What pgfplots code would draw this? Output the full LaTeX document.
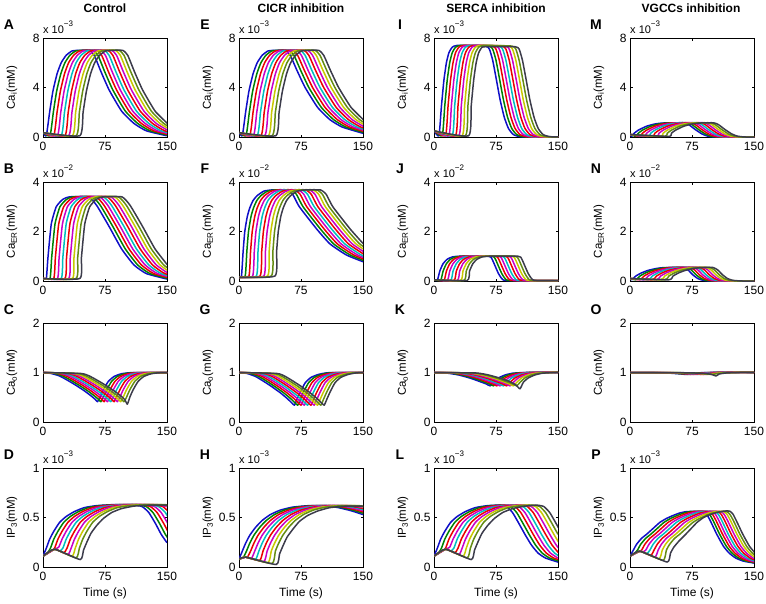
\documentclass[border=0pt]{standalone}
\usepackage{fontspec}
\setmainfont{Liberation Sans}
\usepackage{pgfplots}
\pgfplotsset{compat=1.18}
\definecolor{k1}{RGB}{15,15,200}
\definecolor{k2}{RGB}{0,130,0}
\definecolor{k3}{RGB}{235,0,0}
\definecolor{k4}{RGB}{200,0,200}
\definecolor{k5}{RGB}{0,190,190}
\definecolor{k8}{RGB}{200,200,0}
\definecolor{k9}{RGB}{100,140,20}
\definecolor{k10}{RGB}{60,60,75}
\pgfplotscreateplotcyclelist{mc}{k1\\k2\\k3\\k4\\k5\\k3\\k4\\k8\\k9\\k10\\}
\pgfplotsset{
 pnl/.style={scale only axis, width=124pt, height=99pt, anchor=north west,
  xmin=0, xmax=150, xtick={0,75,150}, ymin=0, clip mode=individual,
  tick align=inside, major tick length=2.5pt,
  axis line style={line width=0.9pt},
  every tick/.style={black, line width=0.6pt},
  tick label style={font=\fontsize{12}{12}\selectfont},
  xticklabel style={yshift=-2pt},
  /pgf/number format/assume math mode=true,
  every axis y label/.style={at={(axis description cs:-0.25,0.5)}, rotate=90, anchor=center, font=\fontsize{11.5}{11.5}\selectfont},
  every axis x label/.style={at={(axis description cs:0.5,-0.27)}, anchor=center, font=\fontsize{12}{12}\selectfont},
  cycle list name=mc, no marks,
  every axis plot/.append style={line width=1.5pt, smooth, tension=0.3, line join=round}},
 r1/.style={pnl, ymax=8, ytick={0,4,8}, ylabel={Ca\textsubscript{i}(mM)}},
 r2/.style={pnl, ymax=4, ytick={0,2,4}, ylabel={Ca\textsubscript{ER}(mM)}},
 r3/.style={pnl, ymax=2, ytick={0,1,2}, ylabel={Ca\textsubscript{o}(mM)}},
 r4/.style={pnl, ymax=1, ytick={0,0.5,1}, ylabel={IP\textsubscript{3}(mM)}, xlabel={Time (s)}},
}
\newcommand{\lett}[1]{\node[xshift=-34pt,yshift=13pt,font=\bfseries\fontsize{14}{14}\selectfont] at (rel axis cs:0,1) {#1};}
\newcommand{\expo}[1]{\node[anchor=base west,inner sep=0pt,yshift=5pt,font=\fontsize{11}{11}\selectfont] at (rel axis cs:0,1) {x 10\raisebox{1.1ex}{\fontsize{8}{8}\selectfont −#1}};}
\begin{document}
\begin{tikzpicture}
\path[use as bounding box] (0,0) rectangle (766pt,-603pt);
\node[font=\bfseries\fontsize{12}{12}\selectfont] at (105pt,-8pt) {Control};
\node[font=\bfseries\fontsize{12}{12}\selectfont] at (301pt,-8pt) {CICR inhibition};
\node[font=\bfseries\fontsize{12}{12}\selectfont] at (496pt,-8pt) {SERCA inhibition};
\node[font=\bfseries\fontsize{12}{12}\selectfont] at (691pt,-8pt) {VGCCs inhibition};
% ---------- A
\begin{axis}[r1, at={(43pt,-38pt)}]
\addplot coordinates {(0,.35)(4,.1)(8,2)(12,3.7)(17,5.1)(22,6)(28,6.6)(35,6.95)(42,7)(56,7)(62,6.6)(70,5.3)(80,3.8)(95,2.1)(110,1.1)(125,.5)(150,.1)};
\addplot coordinates {(0,.35)(8.5,.1)(12.5,2)(16.5,3.7)(21.5,5.1)(26.5,6)(32.5,6.6)(39.5,6.95)(46.5,7)(60.5,7)(66.5,6.6)(74.5,5.3)(84.5,3.8)(99.5,2.1)(114.5,1.1)(129.5,.5)(154.5,.1)};
\addplot coordinates {(0,.35)(13,.1)(17,2)(21,3.7)(26,5.1)(31,6)(37,6.6)(44,6.95)(51,7)(65,7)(71,6.6)(79,5.3)(89,3.8)(104,2.1)(119,1.1)(134,.5)(159,.1)};
\addplot coordinates {(0,.35)(17.5,.1)(21.5,2)(25.5,3.7)(30.5,5.1)(35.5,6)(41.5,6.6)(48.5,6.95)(55.5,7)(69.5,7)(75.5,6.6)(83.5,5.3)(93.5,3.8)(108.5,2.1)(123.5,1.1)(138.5,.5)(163.5,.1)};
\addplot coordinates {(0,.35)(22,.1)(26,2)(30,3.7)(35,5.1)(40,6)(46,6.6)(53,6.95)(60,7)(74,7)(80,6.6)(88,5.3)(98,3.8)(113,2.1)(128,1.1)(143,.5)(168,.1)};
\addplot coordinates {(0,.35)(26.5,.1)(30.5,2)(34.5,3.7)(39.5,5.1)(44.5,6)(50.5,6.6)(57.5,6.95)(64.5,7)(78.5,7)(84.5,6.6)(92.5,5.3)(102.5,3.8)(117.5,2.1)(132.5,1.1)(147.5,.5)(172.5,.1)};
\addplot coordinates {(0,.35)(31,.1)(35,2)(39,3.7)(44,5.1)(49,6)(55,6.6)(62,6.95)(69,7)(83,7)(89,6.6)(97,5.3)(107,3.8)(122,2.1)(137,1.1)(152,.5)};
\addplot coordinates {(0,.35)(35.5,.1)(39.5,2)(43.5,3.7)(48.5,5.1)(53.5,6)(59.5,6.6)(66.5,6.95)(73.5,7)(87.5,7)(93.5,6.6)(101.5,5.3)(111.5,3.8)(126.5,2.1)(141.5,1.1)(156.5,.5)};
\addplot coordinates {(0,.35)(40,.1)(44,2)(48,3.7)(53,5.1)(58,6)(64,6.6)(71,6.95)(78,7)(92,7)(98,6.6)(106,5.3)(116,3.8)(131,2.1)(146,1.1)(161,.5)};
\addplot coordinates {(0,.35)(44.5,.1)(48.5,2)(52.5,3.7)(57.5,5.1)(62.5,6)(68.5,6.6)(75.5,6.95)(82.5,7)(96.5,7)(102.5,6.6)(110.5,5.3)(120.5,3.8)(135.5,2.1)(150.5,1.1)};
\lett{A}\expo{3}
\end{axis}
% ---------- E
\begin{axis}[r1, at={(239pt,-38pt)}]
\addplot coordinates {(0,.35)(4,.1)(8,2)(12,3.7)(17,5.1)(22,6)(28,6.6)(35,6.95)(42,7)(56,7)(62,6.6)(70,5.4)(80,4)(95,2.4)(110,1.4)(125,.8)(150,.3)};
\addplot coordinates {(0,.35)(8.5,.1)(12.5,2)(16.5,3.7)(21.5,5.1)(26.5,6)(32.5,6.6)(39.5,6.95)(46.5,7)(60.5,7)(66.5,6.6)(74.5,5.4)(84.5,4)(99.5,2.4)(114.5,1.4)(129.5,.8)(154.5,.3)};
\addplot coordinates {(0,.35)(13,.1)(17,2)(21,3.7)(26,5.1)(31,6)(37,6.6)(44,6.95)(51,7)(65,7)(71,6.6)(79,5.4)(89,4)(104,2.4)(119,1.4)(134,.8)(159,.3)};
\addplot coordinates {(0,.35)(17.5,.1)(21.5,2)(25.5,3.7)(30.5,5.1)(35.5,6)(41.5,6.6)(48.5,6.95)(55.5,7)(69.5,7)(75.5,6.6)(83.5,5.4)(93.5,4)(108.5,2.4)(123.5,1.4)(138.5,.8)(163.5,.3)};
\addplot coordinates {(0,.35)(22,.1)(26,2)(30,3.7)(35,5.1)(40,6)(46,6.6)(53,6.95)(60,7)(74,7)(80,6.6)(88,5.4)(98,4)(113,2.4)(128,1.4)(143,.8)(168,.3)};
\addplot coordinates {(0,.35)(26.5,.1)(30.5,2)(34.5,3.7)(39.5,5.1)(44.5,6)(50.5,6.6)(57.5,6.95)(64.5,7)(78.5,7)(84.5,6.6)(92.5,5.4)(102.5,4)(117.5,2.4)(132.5,1.4)(147.5,.8)(172.5,.3)};
\addplot coordinates {(0,.35)(31,.1)(35,2)(39,3.7)(44,5.1)(49,6)(55,6.6)(62,6.95)(69,7)(83,7)(89,6.6)(97,5.4)(107,4)(122,2.4)(137,1.4)(152,.8)};
\addplot coordinates {(0,.35)(35.5,.1)(39.5,2)(43.5,3.7)(48.5,5.1)(53.5,6)(59.5,6.6)(66.5,6.95)(73.5,7)(87.5,7)(93.5,6.6)(101.5,5.4)(111.5,4)(126.5,2.4)(141.5,1.4)(156.5,.8)};
\addplot coordinates {(0,.35)(40,.1)(44,2)(48,3.7)(53,5.1)(58,6)(64,6.6)(71,6.95)(78,7)(92,7)(98,6.6)(106,5.4)(116,4)(131,2.4)(146,1.4)(161,.8)};
\addplot coordinates {(0,.35)(44.5,.1)(48.5,2)(52.5,3.7)(57.5,5.1)(62.5,6)(68.5,6.6)(75.5,6.95)(82.5,7)(96.5,7)(102.5,6.6)(110.5,5.4)(120.5,4)(135.5,2.4)(150.5,1.4)};
\lett{E}\expo{3}
\end{axis}
% ---------- I
\begin{axis}[r1, at={(434pt,-38pt)}]
\addplot coordinates {(0,.5)(6,.1)(9,2.5)(12,4.6)(15,6)(18,6.8)(22,7.25)(28,7.4)(62,7.35)(67,7.1)(71,6.2)(75,4.8)(80,3)(85,1.6)(90,.7)(96,.2)(106,.02)(150,0)};
\addplot coordinates {(0,.5)(10,.1)(13,2.5)(16,4.6)(19,6)(22,6.8)(26,7.25)(32,7.4)(66,7.35)(71,7.1)(75,6.2)(79,4.8)(84,3)(89,1.6)(94,.7)(100,.2)(110,.02)(154,0)};
\addplot coordinates {(0,.5)(14,.1)(17,2.5)(20,4.6)(23,6)(26,6.8)(30,7.25)(36,7.4)(70,7.35)(75,7.1)(79,6.2)(83,4.8)(88,3)(93,1.6)(98,.7)(104,.2)(114,.02)(158,0)};
\addplot coordinates {(0,.5)(18,.1)(21,2.5)(24,4.6)(27,6)(30,6.8)(34,7.25)(40,7.4)(74,7.35)(79,7.1)(83,6.2)(87,4.8)(92,3)(97,1.6)(102,.7)(108,.2)(118,.02)(162,0)};
\addplot coordinates {(0,.5)(22,.1)(25,2.5)(28,4.6)(31,6)(34,6.8)(38,7.25)(44,7.4)(78,7.35)(83,7.1)(87,6.2)(91,4.8)(96,3)(101,1.6)(106,.7)(112,.2)(122,.02)(166,0)};
\addplot coordinates {(0,.5)(26,.1)(29,2.5)(32,4.6)(35,6)(38,6.8)(42,7.25)(48,7.4)(82,7.35)(87,7.1)(91,6.2)(95,4.8)(100,3)(105,1.6)(110,.7)(116,.2)(126,.02)(170,0)};
\addplot coordinates {(0,.5)(30,.1)(33,2.5)(36,4.6)(39,6)(42,6.8)(46,7.25)(52,7.4)(86,7.35)(91,7.1)(95,6.2)(99,4.8)(104,3)(109,1.6)(114,.7)(120,.2)(130,.02)(174,0)};
\addplot coordinates {(0,.5)(34,.1)(37,2.5)(40,4.6)(43,6)(46,6.8)(50,7.25)(56,7.4)(90,7.35)(95,7.1)(99,6.2)(103,4.8)(108,3)(113,1.6)(118,.7)(124,.2)(134,.02)(178,0)};
\addplot coordinates {(0,.5)(38,.1)(41,2.5)(44,4.6)(47,6)(50,6.8)(54,7.25)(60,7.4)(94,7.35)(99,7.1)(103,6.2)(107,4.8)(112,3)(117,1.6)(122,.7)(128,.2)(138,.02)(182,0)};
\addplot coordinates {(0,.5)(42,.1)(45,2.5)(48,4.6)(51,6)(54,6.8)(58,7.25)(64,7.3)(98,7.3)(103,7.1)(107,6.2)(111,4.8)(116,3)(121,1.6)(126,.7)(132,.2)(142,.02)(186,0)};
\lett{I}\expo{3}
\end{axis}
% ---------- M
\begin{axis}[r1, at={(630pt,-38pt)}]
\addplot coordinates {(0,.2)(2,.05)(5,.3)(10,.55)(20,.87)(30,1.05)(40,1.13)(65,1.15)(71,1)(79,.6)(87,.25)(94,.07)(104,0)(150,0)};
\addplot coordinates {(0,.2)(7,.05)(10,.3)(15,.55)(25,.87)(35,1.05)(45,1.13)(69,1.15)(75,1)(83,.6)(91,.25)(98,.07)(108,0)(154,0)};
\addplot coordinates {(0,.2)(12,.05)(15,.3)(20,.55)(30,.87)(40,1.05)(50,1.13)(73,1.15)(79,1)(87,.6)(95,.25)(102,.07)(112,0)(158,0)};
\addplot coordinates {(0,.2)(17,.05)(20,.3)(25,.55)(35,.87)(45,1.05)(55,1.13)(77,1.15)(83,1)(91,.6)(99,.25)(106,.07)(116,0)(162,0)};
\addplot coordinates {(0,.2)(22,.05)(25,.3)(30,.55)(40,.87)(50,1.05)(60,1.13)(81,1.15)(87,1)(95,.6)(103,.25)(110,.07)(120,0)(166,0)};
\addplot coordinates {(0,.2)(27,.05)(30,.3)(35,.55)(45,.87)(55,1.05)(65,1.13)(85,1.15)(91,1)(99,.6)(107,.25)(114,.07)(124,0)(170,0)};
\addplot coordinates {(0,.2)(32,.05)(35,.3)(40,.55)(50,.87)(60,1.05)(70,1.13)(89,1.15)(95,1)(103,.6)(111,.25)(118,.07)(128,0)(174,0)};
\addplot coordinates {(0,.2)(37,.05)(40,.3)(45,.55)(55,.87)(65,1.05)(75,1.13)(93,1.15)(99,1)(107,.6)(115,.25)(122,.07)(132,0)(178,0)};
\addplot coordinates {(0,.2)(42,.05)(45,.3)(50,.55)(60,.87)(70,1.05)(80,1.13)(97,1.15)(103,1)(111,.6)(119,.25)(126,.07)(136,0)(182,0)};
\addplot coordinates {(0,.2)(47,.05)(50,.3)(55,.55)(65,.87)(75,1.05)(85,1.13)(101,1.15)(107,1)(115,.6)(123,.25)(130,.07)(140,0)(186,0)};
\lett{M}\expo{3}
\end{axis}
% ---------- B
\begin{axis}[r2, at={(43pt,-182pt)}]
\addplot coordinates {(0,.1)(4,.1)(6,.95)(10,2.3)(16,3)(24,3.3)(32,3.4)(55,3.4)(65,3.05)(80,2.2)(95,1.3)(110,.65)(125,.3)(150,.08)};
\addplot coordinates {(0,.1)(8.5,.1)(10.5,.95)(14.5,2.3)(20.5,3)(28.5,3.3)(36.5,3.4)(59.5,3.4)(69.5,3.05)(84.5,2.2)(99.5,1.3)(114.5,.65)(129.5,.3)(154.5,.08)};
\addplot coordinates {(0,.1)(13,.1)(15,.95)(19,2.3)(25,3)(33,3.3)(41,3.4)(64,3.4)(74,3.05)(89,2.2)(104,1.3)(119,.65)(134,.3)(159,.08)};
\addplot coordinates {(0,.1)(17.5,.1)(19.5,.95)(23.5,2.3)(29.5,3)(37.5,3.3)(45.5,3.4)(68.5,3.4)(78.5,3.05)(93.5,2.2)(108.5,1.3)(123.5,.65)(138.5,.3)(163.5,.08)};
\addplot coordinates {(0,.1)(22,.1)(24,.95)(28,2.3)(34,3)(42,3.3)(50,3.4)(73,3.4)(83,3.05)(98,2.2)(113,1.3)(128,.65)(143,.3)(168,.08)};
\addplot coordinates {(0,.1)(26.5,.1)(28.5,.95)(32.5,2.3)(38.5,3)(46.5,3.3)(54.5,3.4)(77.5,3.4)(87.5,3.05)(102.5,2.2)(117.5,1.3)(132.5,.65)(147.5,.3)(172.5,.08)};
\addplot coordinates {(0,.1)(31,.1)(33,.95)(37,2.3)(43,3)(51,3.3)(59,3.4)(82,3.4)(92,3.05)(107,2.2)(122,1.3)(137,.65)(152,.3)};
\addplot coordinates {(0,.1)(35.5,.1)(37.5,.95)(41.5,2.3)(47.5,3)(55.5,3.3)(63.5,3.4)(86.5,3.4)(96.5,3.05)(111.5,2.2)(126.5,1.3)(141.5,.65)(156.5,.3)};
\addplot coordinates {(0,.1)(40,.1)(42,.95)(46,2.3)(52,3)(60,3.3)(68,3.4)(91,3.4)(101,3.05)(116,2.2)(131,1.3)(146,.65)(161,.3)};
\addplot coordinates {(0,.1)(44.5,.1)(46.5,.95)(50.5,2.3)(56.5,3)(64.5,3.3)(72.5,3.4)(95.5,3.4)(105.5,3.05)(120.5,2.2)(135.5,1.3)(150.5,.65)};
\lett{B}\expo{2}
\end{axis}
% ---------- F
\begin{axis}[r2, at={(239pt,-182pt)}]
\addplot coordinates {(0,.15)(3,.2)(5,1.2)(7,2)(10,2.6)(13,2.95)(17,3.25)(22,3.45)(30,3.63)(40,3.68)(58,3.68)(65,3.5)(73,3)(94,2.1)(110,1.5)(130,1.05)(150,.78)};
\addplot coordinates {(0,.15)(7.5,.2)(9.5,1.2)(11.5,2)(14.5,2.6)(17.5,2.95)(21.5,3.25)(26.5,3.45)(34.5,3.63)(44.5,3.68)(62.5,3.68)(69.5,3.5)(77.5,3)(98.5,2.1)(114.5,1.5)(134.5,1.05)(154.5,.78)};
\addplot coordinates {(0,.15)(12,.2)(14,1.2)(16,2)(19,2.6)(22,2.95)(26,3.25)(31,3.45)(39,3.63)(49,3.68)(67,3.68)(74,3.5)(82,3)(103,2.1)(119,1.5)(139,1.05)(159,.78)};
\addplot coordinates {(0,.15)(16.5,.2)(18.5,1.2)(20.5,2)(23.5,2.6)(26.5,2.95)(30.5,3.25)(35.5,3.45)(43.5,3.63)(53.5,3.68)(71.5,3.68)(78.5,3.5)(86.5,3)(107.5,2.1)(123.5,1.5)(143.5,1.05)(163.5,.78)};
\addplot coordinates {(0,.15)(21,.2)(23,1.2)(25,2)(28,2.6)(31,2.95)(35,3.25)(40,3.45)(48,3.63)(58,3.68)(76,3.68)(83,3.5)(91,3)(112,2.1)(128,1.5)(148,1.05)(168,.78)};
\addplot coordinates {(0,.15)(25.5,.2)(27.5,1.2)(29.5,2)(32.5,2.6)(35.5,2.95)(39.5,3.25)(44.5,3.45)(52.5,3.63)(62.5,3.68)(80.5,3.68)(87.5,3.5)(95.5,3)(116.5,2.1)(132.5,1.5)(152.5,1.05)};
\addplot coordinates {(0,.15)(30,.2)(32,1.2)(34,2)(37,2.6)(40,2.95)(44,3.25)(49,3.45)(57,3.63)(67,3.68)(85,3.68)(92,3.5)(100,3)(121,2.1)(137,1.5)(157,1.05)};
\addplot coordinates {(0,.15)(34.5,.2)(36.5,1.2)(38.5,2)(41.5,2.6)(44.5,2.95)(48.5,3.25)(53.5,3.45)(61.5,3.63)(71.5,3.68)(89.5,3.68)(96.5,3.5)(104.5,3)(125.5,2.1)(141.5,1.5)(161.5,1.05)};
\addplot coordinates {(0,.15)(39,.2)(41,1.2)(43,2)(46,2.6)(49,2.95)(53,3.25)(58,3.45)(66,3.63)(76,3.68)(94,3.68)(101,3.5)(109,3)(130,2.1)(146,1.5)(166,1.05)};
\addplot coordinates {(0,.15)(43.5,.2)(45.5,1.2)(47.5,2)(50.5,2.6)(53.5,2.95)(57.5,3.25)(62.5,3.45)(70.5,3.63)(80.5,3.68)(98.5,3.68)(105.5,3.5)(113.5,3)(134.5,2.1)(150.5,1.5)};
\lett{F}\expo{2}
\end{axis}
% ---------- J
\begin{axis}[r2, at={(434pt,-182pt)}]
\addplot coordinates {(0,.05)(4,.02)(7,.4)(11,.7)(16,.88)(22,.97)(30,1)(66,1)(70,.9)(74,.6)(78,.3)(82,.1)(88,.02)(150,.01)};
\addplot coordinates {(0,.05)(8,.02)(11,.4)(15,.7)(20,.88)(26,.97)(34,1)(70,1)(74,.9)(78,.6)(82,.3)(86,.1)(92,.02)(154,.01)};
\addplot coordinates {(0,.05)(12,.02)(15,.4)(19,.7)(24,.88)(30,.97)(38,1)(74,1)(78,.9)(82,.6)(86,.3)(90,.1)(96,.02)(158,.01)};
\addplot coordinates {(0,.05)(16,.02)(19,.4)(23,.7)(28,.88)(34,.97)(42,1)(78,1)(82,.9)(86,.6)(90,.3)(94,.1)(100,.02)(162,.01)};
\addplot coordinates {(0,.05)(20,.02)(23,.4)(27,.7)(32,.88)(38,.97)(46,1)(82,1)(86,.9)(90,.6)(94,.3)(98,.1)(104,.02)(166,.01)};
\addplot coordinates {(0,.05)(24,.02)(27,.4)(31,.7)(36,.88)(42,.97)(50,1)(86,1)(90,.9)(94,.6)(98,.3)(102,.1)(108,.02)(170,.01)};
\addplot coordinates {(0,.05)(28,.02)(31,.4)(35,.7)(40,.88)(46,.97)(54,1)(90,1)(94,.9)(98,.6)(102,.3)(106,.1)(112,.02)(174,.01)};
\addplot coordinates {(0,.05)(32,.02)(35,.4)(39,.7)(44,.88)(50,.97)(58,1)(94,1)(98,.9)(102,.6)(106,.3)(110,.1)(116,.02)(178,.01)};
\addplot coordinates {(0,.05)(36,.02)(39,.4)(43,.7)(48,.88)(54,.97)(62,1)(98,1)(102,.9)(106,.6)(110,.3)(114,.1)(120,.02)(182,.01)};
\addplot coordinates {(0,.05)(40,.02)(43,.4)(47,.7)(52,.88)(58,.97)(66,1)(102,1)(106,.9)(110,.6)(114,.3)(118,.1)(124,.02)(186,.01)};
\lett{J}\expo{2}
\end{axis}
% ---------- N
\begin{axis}[r2, at={(630pt,-182pt)}]
\addplot coordinates {(0,.1)(2,.05)(7,.2)(14,.33)(22,.43)(31,.5)(40,.54)(64,.55)(70,.45)(76,.25)(82,.1)(88,.03)(100,0)(150,0)};
\addplot coordinates {(0,.1)(7,.05)(12,.2)(19,.33)(27,.43)(36,.5)(45,.54)(68,.55)(74,.45)(80,.25)(86,.1)(92,.03)(104,0)(154,0)};
\addplot coordinates {(0,.1)(12,.05)(17,.2)(24,.33)(32,.43)(41,.5)(50,.54)(72,.55)(78,.45)(84,.25)(90,.1)(96,.03)(108,0)(158,0)};
\addplot coordinates {(0,.1)(17,.05)(22,.2)(29,.33)(37,.43)(46,.5)(55,.54)(76,.55)(82,.45)(88,.25)(94,.1)(100,.03)(112,0)(162,0)};
\addplot coordinates {(0,.1)(22,.05)(27,.2)(34,.33)(42,.43)(51,.5)(60,.54)(80,.55)(86,.45)(92,.25)(98,.1)(104,.03)(116,0)(166,0)};
\addplot coordinates {(0,.1)(27,.05)(32,.2)(39,.33)(47,.43)(56,.5)(65,.54)(84,.55)(90,.45)(96,.25)(102,.1)(108,.03)(120,0)(170,0)};
\addplot coordinates {(0,.1)(32,.05)(37,.2)(44,.33)(52,.43)(61,.5)(70,.54)(88,.55)(94,.45)(100,.25)(106,.1)(112,.03)(124,0)(174,0)};
\addplot coordinates {(0,.1)(37,.05)(42,.2)(49,.33)(57,.43)(66,.5)(75,.54)(92,.55)(98,.45)(104,.25)(110,.1)(116,.03)(128,0)(178,0)};
\addplot coordinates {(0,.1)(42,.05)(47,.2)(54,.33)(62,.43)(71,.5)(80,.54)(96,.55)(102,.45)(108,.25)(114,.1)(120,.03)(132,0)(182,0)};
\addplot coordinates {(0,.1)(47,.05)(52,.2)(59,.33)(67,.43)(76,.5)(85,.54)(100,.55)(106,.45)(112,.25)(118,.1)(124,.03)(136,0)(186,0)};
\lett{N}\expo{2}
\end{axis}
% ---------- C
\begin{axis}[r3, at={(43pt,-323pt)}]
\addplot coordinates {(0,1)(10,.98)(20,.93)(30,.84)(40,.74)(50,.63)(58,.53)(63,.46)(66,.41)(69,.5)(73,.65)(79,.82)(86,.92)(95,.975)(108,.998)(150,1)};
\addplot coordinates {(0,1)(14,.98)(24,.93)(34,.84)(44,.74)(54,.63)(62,.53)(67,.46)(70,.41)(73,.5)(77,.65)(83,.82)(90,.92)(99,.975)(112,.998)(154,1)};
\addplot coordinates {(0,1)(18,.98)(28,.93)(38,.84)(48,.74)(58,.63)(66,.53)(71,.46)(74,.41)(77,.5)(81,.65)(87,.82)(94,.92)(103,.975)(116,.998)(158,1)};
\addplot coordinates {(0,1)(22,.98)(32,.93)(42,.84)(52,.74)(62,.63)(70,.53)(75,.46)(78,.41)(81,.5)(85,.65)(91,.82)(98,.92)(107,.975)(120,.998)(162,1)};
\addplot coordinates {(0,1)(26,.98)(36,.93)(46,.84)(56,.74)(66,.63)(74,.53)(79,.46)(82,.41)(85,.5)(89,.65)(95,.82)(102,.92)(111,.975)(124,.998)(166,1)};
\addplot coordinates {(0,1)(30,.98)(40,.93)(50,.84)(60,.74)(70,.63)(78,.53)(83,.46)(86,.41)(89,.5)(93,.65)(99,.82)(106,.92)(115,.975)(128,.998)(170,1)};
\addplot coordinates {(0,1)(34,.98)(44,.93)(54,.84)(64,.74)(74,.63)(82,.53)(87,.46)(90,.41)(93,.5)(97,.65)(103,.82)(110,.92)(119,.975)(132,.998)(174,1)};
\addplot coordinates {(0,1)(38,.98)(48,.93)(58,.84)(68,.74)(78,.63)(86,.53)(91,.46)(94,.41)(97,.5)(101,.65)(107,.82)(114,.92)(123,.975)(136,.998)(178,1)};
\addplot coordinates {(0,1)(42,.98)(52,.93)(62,.84)(72,.74)(82,.63)(90,.53)(95,.46)(98,.41)(101,.5)(105,.65)(111,.82)(118,.92)(127,.975)(140,.998)(182,1)};
\addplot coordinates {(0,1)(46,.98)(56,.93)(66,.84)(76,.74)(86,.63)(94,.53)(99,.45)(102,.36)(105,.5)(109,.65)(115,.82)(122,.92)(131,.975)(144,.998)(186,1)};
\lett{C}
\end{axis}
% ---------- G
\begin{axis}[r3, at={(239pt,-323pt)}]
\addplot coordinates {(0,1)(10,.98)(20,.92)(30,.82)(40,.71)(50,.59)(58,.48)(63,.4)(67,.34)(70,.45)(74,.6)(80,.79)(87,.9)(96,.96)(108,.995)(150,1)};
\addplot coordinates {(0,1)(14,.98)(24,.92)(34,.82)(44,.71)(54,.59)(62,.48)(67,.4)(71,.34)(74,.45)(78,.6)(84,.79)(91,.9)(100,.96)(112,.995)(154,1)};
\addplot coordinates {(0,1)(18,.98)(28,.92)(38,.82)(48,.71)(58,.59)(66,.48)(71,.4)(75,.34)(78,.45)(82,.6)(88,.79)(95,.9)(104,.96)(116,.995)(158,1)};
\addplot coordinates {(0,1)(22,.98)(32,.92)(42,.82)(52,.71)(62,.59)(70,.48)(75,.4)(79,.34)(82,.45)(86,.6)(92,.79)(99,.9)(108,.96)(120,.995)(162,1)};
\addplot coordinates {(0,1)(26,.98)(36,.92)(46,.82)(56,.71)(66,.59)(74,.48)(79,.4)(83,.34)(86,.45)(90,.6)(96,.79)(103,.9)(112,.96)(124,.995)(166,1)};
\addplot coordinates {(0,1)(30,.98)(40,.92)(50,.82)(60,.71)(70,.59)(78,.48)(83,.4)(87,.34)(90,.45)(94,.6)(100,.79)(107,.9)(116,.96)(128,.995)(170,1)};
\addplot coordinates {(0,1)(34,.98)(44,.92)(54,.82)(64,.71)(74,.59)(82,.48)(87,.4)(91,.34)(94,.45)(98,.6)(104,.79)(111,.9)(120,.96)(132,.995)(174,1)};
\addplot coordinates {(0,1)(38,.98)(48,.92)(58,.82)(68,.71)(78,.59)(86,.48)(91,.4)(95,.34)(98,.45)(102,.6)(108,.79)(115,.9)(124,.96)(136,.995)(178,1)};
\addplot coordinates {(0,1)(42,.98)(52,.92)(62,.82)(72,.71)(82,.59)(90,.48)(95,.4)(99,.34)(102,.45)(106,.6)(112,.79)(119,.9)(128,.96)(140,.995)(182,1)};
\addplot coordinates {(0,1)(46,.98)(56,.92)(66,.82)(76,.71)(86,.59)(94,.48)(99,.4)(103,.34)(106,.45)(110,.6)(116,.79)(123,.9)(132,.96)(144,.995)(186,1)};
\lett{G}
\end{axis}
% ---------- K
\begin{axis}[r3, at={(434pt,-323pt)}]
\addplot coordinates {(0,1)(15,.99)(30,.95)(45,.88)(55,.82)(63,.77)(68,.73)(72,.8)(78,.89)(86,.95)(95,.985)(110,1)(150,1)};
\addplot coordinates {(0,1)(19,.99)(34,.95)(49,.88)(59,.82)(67,.77)(72,.73)(76,.8)(82,.89)(90,.95)(99,.985)(114,1)(154,1)};
\addplot coordinates {(0,1)(23,.99)(38,.95)(53,.88)(63,.82)(71,.77)(76,.73)(80,.8)(86,.89)(94,.95)(103,.985)(118,1)(158,1)};
\addplot coordinates {(0,1)(27,.99)(42,.95)(57,.88)(67,.82)(75,.77)(80,.73)(84,.8)(90,.89)(98,.95)(107,.985)(122,1)(162,1)};
\addplot coordinates {(0,1)(31,.99)(46,.95)(61,.88)(71,.82)(79,.77)(84,.73)(88,.8)(94,.89)(102,.95)(111,.985)(126,1)(166,1)};
\addplot coordinates {(0,1)(35,.99)(50,.95)(65,.88)(75,.82)(83,.77)(88,.73)(92,.8)(98,.89)(106,.95)(115,.985)(130,1)(170,1)};
\addplot coordinates {(0,1)(39,.99)(54,.95)(69,.88)(79,.82)(87,.77)(92,.73)(96,.8)(102,.89)(110,.95)(119,.985)(134,1)(174,1)};
\addplot coordinates {(0,1)(43,.99)(58,.95)(73,.88)(83,.82)(91,.77)(96,.73)(100,.8)(106,.89)(114,.95)(123,.985)(138,1)(178,1)};
\addplot coordinates {(0,1)(47,.99)(62,.95)(77,.88)(87,.82)(95,.77)(100,.73)(104,.8)(110,.89)(118,.95)(127,.985)(142,1)(182,1)};
\addplot coordinates {(0,1)(51,.99)(66,.95)(81,.88)(91,.82)(99,.75)(104,.67)(108,.8)(114,.89)(122,.95)(131,.985)(146,1)(186,1)};
\lett{K}
\end{axis}
% ---------- O
\begin{axis}[r3, at={(630pt,-323pt)}]
\addplot coordinates {(0,1)(30,.995)(50,.985)(62,.97)(68,.96)(72,.975)(80,.99)(95,1)(150,1)};
\addplot coordinates {(0,1)(34,.995)(54,.985)(66,.97)(72,.96)(76,.975)(84,.99)(99,1)(154,1)};
\addplot coordinates {(0,1)(38,.995)(58,.985)(70,.97)(76,.96)(80,.975)(88,.99)(103,1)(158,1)};
\addplot coordinates {(0,1)(42,.995)(62,.985)(74,.97)(80,.96)(84,.975)(92,.99)(107,1)(162,1)};
\addplot coordinates {(0,1)(46,.995)(66,.985)(78,.97)(84,.96)(88,.975)(96,.99)(111,1)(166,1)};
\addplot coordinates {(0,1)(50,.995)(70,.985)(82,.97)(88,.96)(92,.975)(100,.99)(115,1)(170,1)};
\addplot coordinates {(0,1)(54,.995)(74,.985)(86,.97)(92,.96)(96,.975)(104,.99)(119,1)(174,1)};
\addplot coordinates {(0,1)(58,.995)(78,.985)(90,.97)(96,.96)(100,.975)(108,.99)(123,1)(178,1)};
\addplot coordinates {(0,1)(62,.995)(82,.985)(94,.97)(100,.96)(104,.975)(112,.99)(127,1)(182,1)};
\addplot coordinates {(0,1)(66,.995)(86,.985)(98,.965)(104,.93)(108,.97)(116,.99)(131,1)(186,1)};
\lett{O}
\end{axis}
% ---------- D
\begin{axis}[r4, at={(43pt,-468pt)}]
\addplot coordinates {(0,.11)(4,.19)(8,.28)(13,.36)(20,.45)(28,.51)(38,.56)(50,.6)(65,.62)(85,.63)(108,.63)(120,.61)(128,.55)(136,.44)(143,.33)(150,.245)};
\addplot coordinates {(0,.11)(5,.135)(9,.19)(13,.28)(18,.36)(25,.45)(33,.51)(43,.56)(55,.6)(70,.62)(90,.63)(113,.63)(125,.61)(133,.55)(141,.44)(148,.33)(155,.245)};
\addplot coordinates {(0,.11)(10,.16)(14,.19)(18,.28)(23,.36)(30,.45)(38,.51)(48,.56)(60,.6)(75,.62)(95,.63)(118,.63)(130,.61)(138,.55)(146,.44)(153,.33)};
\addplot coordinates {(0,.11)(14,.18)(19,.2)(23,.28)(28,.36)(35,.45)(43,.51)(53,.56)(65,.6)(80,.62)(100,.63)(123,.63)(135,.61)(143,.55)(151,.44)};
\addplot coordinates {(0,.11)(14,.18)(20,.16)(24,.19)(28,.28)(33,.36)(40,.45)(48,.51)(58,.56)(70,.6)(85,.62)(105,.63)(128,.63)(140,.61)(148,.55)(156,.44)};
\addplot coordinates {(0,.11)(14,.18)(25,.143)(29,.19)(33,.28)(38,.36)(45,.45)(53,.51)(63,.56)(75,.6)(90,.62)(110,.63)(133,.63)(145,.61)(153,.55)};
\addplot coordinates {(0,.11)(14,.18)(30,.126)(34,.19)(38,.28)(43,.36)(50,.45)(58,.51)(68,.56)(80,.6)(95,.62)(115,.63)(138,.63)(150,.61)};
\addplot coordinates {(0,.11)(14,.18)(35,.109)(39,.19)(43,.28)(48,.36)(55,.45)(63,.51)(73,.56)(85,.6)(100,.62)(120,.63)(143,.63)(155,.61)};
\addplot coordinates {(0,.11)(14,.18)(40,.092)(44,.19)(48,.28)(53,.36)(60,.45)(68,.51)(78,.56)(90,.6)(105,.62)(125,.63)(148,.63)(160,.61)};
\addplot coordinates {(0,.11)(14,.18)(45,.075)(49,.17)(53,.25)(58,.34)(65,.42)(73,.49)(83,.55)(95,.59)(110,.615)(130,.625)(153,.625)};
\lett{D}\expo{3}
\end{axis}
% ---------- H
\begin{axis}[r4, at={(239pt,-468pt)}]
\addplot coordinates {(0,.08)(4,.16)(8,.24)(13,.32)(20,.4)(28,.47)(38,.53)(50,.575)(65,.605)(85,.62)(105,.62)(120,.6)(135,.57)(150,.53)};
\addplot coordinates {(0,.08)(5,.093)(9,.16)(13,.24)(18,.32)(25,.4)(33,.47)(43,.53)(55,.575)(70,.605)(90,.62)(110,.62)(125,.6)(140,.57)(155,.53)};
\addplot coordinates {(0,.08)(8,.1)(10,.096)(14,.16)(18,.24)(23,.32)(30,.4)(38,.47)(48,.53)(60,.575)(75,.605)(95,.62)(115,.62)(130,.6)(145,.57)(160,.53)};
\addplot coordinates {(0,.08)(8,.1)(15,.086)(19,.16)(23,.24)(28,.32)(35,.4)(43,.47)(53,.53)(65,.575)(80,.605)(100,.62)(120,.62)(135,.6)(150,.57)};
\addplot coordinates {(0,.08)(8,.1)(20,.076)(24,.16)(28,.24)(33,.32)(40,.4)(48,.47)(58,.53)(70,.575)(85,.605)(105,.62)(125,.62)(140,.6)(155,.57)};
\addplot coordinates {(0,.08)(8,.1)(25,.066)(29,.16)(33,.24)(38,.32)(45,.4)(53,.47)(63,.53)(75,.575)(90,.605)(110,.62)(130,.62)(145,.6)(160,.57)};
\addplot coordinates {(0,.08)(8,.1)(30,.055)(34,.16)(38,.24)(43,.32)(50,.4)(58,.47)(68,.53)(80,.575)(95,.605)(115,.62)(135,.62)(150,.6)};
\addplot coordinates {(0,.08)(8,.1)(35,.045)(39,.16)(43,.24)(48,.32)(55,.4)(63,.47)(73,.53)(85,.575)(100,.605)(120,.62)(140,.62)(155,.6)};
\addplot coordinates {(0,.08)(8,.1)(40,.035)(44,.16)(48,.24)(53,.32)(60,.4)(68,.47)(78,.53)(90,.575)(105,.605)(125,.62)(145,.62)(160,.6)};
\addplot coordinates {(0,.08)(8,.1)(45,.025)(49,.13)(53,.21)(58,.3)(65,.38)(73,.46)(83,.52)(95,.565)(110,.6)(130,.615)(150,.615)};
\lett{H}\expo{3}
\end{axis}
% ---------- L
\begin{axis}[r4, at={(434pt,-468pt)}]
\addplot coordinates {(0,.11)(4,.19)(8,.28)(13,.36)(20,.45)(28,.51)(38,.56)(50,.6)(65,.62)(80,.625)(88,.61)(95,.55)(102,.45)(110,.33)(118,.22)(126,.14)(135,.09)(150,.05)};
\addplot coordinates {(0,.11)(5,.135)(9,.19)(13,.28)(18,.36)(25,.45)(33,.51)(43,.56)(55,.6)(70,.62)(85,.625)(93,.61)(100,.55)(107,.45)(115,.33)(123,.22)(131,.14)(140,.09)(155,.05)};
\addplot coordinates {(0,.11)(10,.16)(14,.19)(18,.28)(23,.36)(30,.45)(38,.51)(48,.56)(60,.6)(75,.62)(90,.625)(98,.61)(105,.55)(112,.45)(120,.33)(128,.22)(136,.14)(145,.09)(160,.05)};
\addplot coordinates {(0,.11)(14,.18)(19,.2)(23,.28)(28,.36)(35,.45)(43,.51)(53,.56)(65,.6)(80,.62)(95,.625)(103,.61)(110,.55)(117,.45)(125,.33)(133,.22)(141,.14)(150,.09)};
\addplot coordinates {(0,.11)(14,.18)(20,.16)(24,.19)(28,.28)(33,.36)(40,.45)(48,.51)(58,.56)(70,.6)(85,.62)(100,.625)(108,.61)(115,.55)(122,.45)(130,.33)(138,.22)(146,.14)(155,.09)};
\addplot coordinates {(0,.11)(14,.18)(25,.143)(29,.19)(33,.28)(38,.36)(45,.45)(53,.51)(63,.56)(75,.6)(90,.62)(105,.625)(113,.61)(120,.55)(127,.45)(135,.33)(143,.22)(151,.14)};
\addplot coordinates {(0,.11)(14,.18)(30,.126)(34,.19)(38,.28)(43,.36)(50,.45)(58,.51)(68,.56)(80,.6)(95,.62)(110,.625)(118,.61)(125,.55)(132,.45)(140,.33)(148,.22)(156,.14)};
\addplot coordinates {(0,.11)(14,.18)(35,.109)(39,.19)(43,.28)(48,.36)(55,.45)(63,.51)(73,.56)(85,.6)(100,.62)(115,.625)(123,.61)(130,.55)(137,.45)(145,.33)(153,.22)};
\addplot coordinates {(0,.11)(14,.18)(40,.092)(44,.19)(48,.28)(53,.36)(60,.45)(68,.51)(78,.56)(90,.6)(105,.62)(120,.625)(128,.61)(135,.55)(142,.45)(150,.33)};
\addplot coordinates {(0,.11)(14,.18)(45,.075)(49,.17)(53,.25)(58,.34)(65,.42)(73,.49)(83,.55)(95,.59)(110,.615)(125,.625)(133,.61)(140,.55)(147,.45)(155,.33)};
\lett{L}\expo{3}
\end{axis}
% ---------- P
\begin{axis}[r4, at={(630pt,-468pt)}]
\addplot coordinates {(0,.11)(4,.17)(8,.23)(14,.29)(20,.33)(28,.39)(36,.45)(44,.49)(52,.52)(60,.545)(69,.56)(89,.56)(93,.53)(97,.47)(101,.4)(105,.33)(113,.21)(120,.14)(128,.09)(137,.06)(150,.04)};
\addplot coordinates {(0,.11)(5,.131)(9,.17)(13,.23)(19,.29)(25,.33)(33,.39)(41,.45)(49,.49)(57,.52)(65,.545)(74,.56)(92.5,.56)(96.5,.53)(100.5,.47)(104.5,.4)(108.5,.33)(116.5,.21)(123.5,.14)(131.5,.09)(140.5,.06)(153.5,.04)};
\addplot coordinates {(0,.11)(10,.152)(14,.17)(18,.23)(24,.29)(30,.33)(38,.39)(46,.45)(54,.49)(62,.52)(70,.545)(79,.56)(96,.56)(100,.53)(104,.47)(108,.4)(112,.33)(120,.21)(127,.14)(135,.09)(144,.06)(157,.04)};
\addplot coordinates {(0,.11)(12,.16)(15,.15)(19,.17)(23,.23)(29,.29)(35,.33)(43,.39)(51,.45)(59,.49)(67,.52)(75,.545)(84,.56)(99.5,.56)(103.5,.53)(107.5,.47)(111.5,.4)(115.5,.33)(123.5,.21)(130.5,.14)(138.5,.09)(147.5,.06)(160.5,.04)};
\addplot coordinates {(0,.11)(12,.16)(20,.133)(24,.17)(28,.23)(34,.29)(40,.33)(48,.39)(56,.45)(64,.49)(72,.52)(80,.545)(89,.56)(103,.56)(107,.53)(111,.47)(115,.4)(119,.33)(127,.21)(134,.14)(142,.09)(151,.06)};
\addplot coordinates {(0,.11)(12,.16)(25,.117)(29,.17)(33,.23)(39,.29)(45,.33)(53,.39)(61,.45)(69,.49)(77,.52)(85,.545)(94,.56)(106.5,.56)(110.5,.53)(114.5,.47)(118.5,.4)(122.5,.33)(130.5,.21)(137.5,.14)(145.5,.09)(154.5,.06)};
\addplot coordinates {(0,.11)(12,.16)(30,.1)(34,.17)(38,.23)(44,.29)(50,.33)(58,.39)(66,.45)(74,.49)(82,.52)(90,.545)(99,.56)(110,.56)(114,.53)(118,.47)(122,.4)(126,.33)(134,.21)(141,.14)(149,.09)(158,.06)};
\addplot coordinates {(0,.11)(12,.16)(35,.083)(39,.17)(43,.23)(49,.29)(55,.33)(63,.39)(71,.45)(79,.49)(87,.52)(95,.545)(104,.56)(113.5,.56)(117.5,.53)(121.5,.47)(125.5,.4)(129.5,.33)(137.5,.21)(144.5,.14)(152.5,.09)};
\addplot coordinates {(0,.11)(12,.16)(40,.067)(44,.17)(48,.23)(54,.29)(60,.33)(68,.39)(76,.45)(84,.49)(92,.52)(100,.545)(109,.56)(117,.56)(121,.53)(125,.47)(129,.4)(133,.33)(141,.21)(148,.14)(156,.09)};
\addplot coordinates {(0,.11)(12,.16)(45,.05)(49,.14)(53,.2)(59,.26)(65,.31)(73,.38)(81,.45)(89,.5)(97,.53)(105,.55)(114,.565)(120.5,.565)(124.5,.535)(128.5,.47)(132.5,.4)(136.5,.33)(144.5,.21)(151.5,.14)};
\lett{P}\expo{3}
\end{axis}
\end{tikzpicture}
\end{document}
